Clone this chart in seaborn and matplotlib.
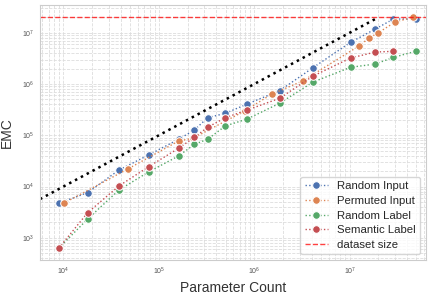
import matplotlib
matplotlib.use("Agg")
import matplotlib.pyplot as plt
import seaborn as sns

# parameter counts (x)
model_params = [8930, 17950, 38300, 78100, 161000, 236000, 324000, 497000,
                845000, 1.84e6, 4.12e6, 1.02e7, 1.85e7, 2.87e7, 4.89e7]
permuted_params = [10070, 47900, 161000, 228000, 791000, 1.53e6, 3.2e6,
                   1.26e7, 1.59e7, 1.97e7, 2.99e7, 4.59e7]

random_input = [4720, 7600, 21100, 41300, 83600, 127000, 220000, 268000,
                408000, 740000, 2.08e6, 6.5e6, 1.18e7, 1.85e7, 1.85e7]
permuted_input = [4720, 22300, 77400, 87400, 298000, 638000, 1.14e6,
                  5.58e6, 7.88e6, 9.87e6, 1.62e7, 2.0e7]
random_label = [627, 2330, 8590, 19300, 39500, 66800, 83600, 152000,
                208000, 421000, 1.09e6, 2.12e6, 2.45e6, 3.31e6, 4.34e6]
semantic_label = [627, 3100, 10300, 24400, 55800, 91400, 143000, 220000,
                  311000, 526000, 1.43e6, 3.21e6, 4.2e6, 4.34e6]

dataset_size = 2.0e7
ref_x = [5680, dataset_size]  # EMC = parameter count reference

sns.set_style("whitegrid")
plt.rcParams["font.family"] = ["Liberation Sans", "DejaVu Sans"]
pal = sns.color_palette("deep")

fig = plt.figure(figsize=(4.3, 2.96), dpi=100)
ax = fig.add_axes([0.093, 0.122, 0.897, 0.861])

series = [
    ("Random Input", model_params, random_input, pal[0]),
    ("Permuted Input", permuted_params, permuted_input, pal[1]),
    ("Random Label", model_params, random_label, pal[2]),
    ("Semantic Label", model_params[:len(semantic_label)], semantic_label, pal[3]),
]
for name, xs, ys, c in series:
    sns.lineplot(x=xs, y=ys, ax=ax, color=c, marker="o", markersize=5.5,
                 linestyle=":", linewidth=1, label=name, sort=False)

ax.plot(ref_x, ref_x, color="black", linestyle=":", linewidth=1.8)
ax.axhline(dataset_size, color="red", linestyle="--", linewidth=1,
           alpha=0.75, label="dataset size")

ax.set_xscale("log")
ax.set_yscale("log")
ax.set_xlim(5680, 6.25e7)
ax.set_ylim(371, 3.47e7)
ax.grid(which="both", linestyle="--", color="#dddddd", linewidth=0.6)
ax.tick_params(which="both", labelsize=5, length=0, pad=4, labelcolor="#555555")
ax.set_xlabel("Parameter Count", fontsize=10, labelpad=3, color="#333333")
ax.set_ylabel("EMC", fontsize=10, labelpad=6, color="#333333")
for s in ax.spines.values():
    s.set_color("#cccccc")

ax.legend(loc="lower right", fontsize=8.2, frameon=True, labelspacing=0.4)

fig.savefig("out.png", dpi=100)
